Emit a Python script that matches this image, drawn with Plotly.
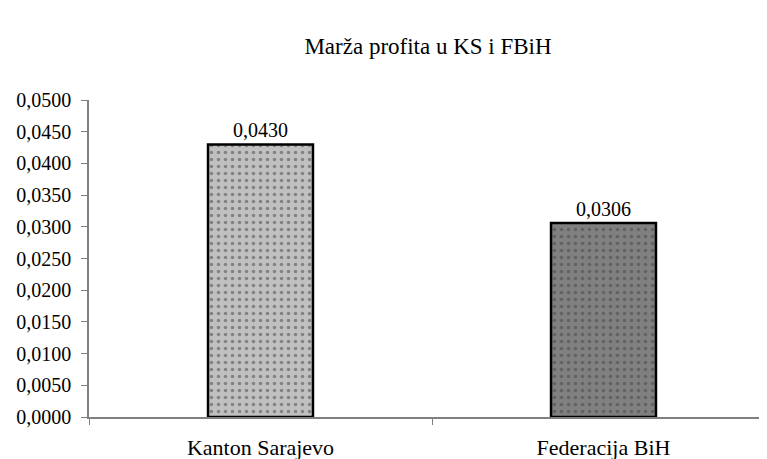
import plotly.graph_objects as go

categories = ["Kanton Sarajevo", "Federacija BiH"]
values = [0.0430, 0.0306]
value_labels = ["0,0430", "0,0306"]
bar_colors = ["#c0c0c0", "#808080"]

SERIF = "'Liberation Serif', 'Times New Roman', Tinos, serif"

fig = go.Figure()
fig.add_trace(go.Bar(
    x=categories, y=values,
    text=value_labels, textposition="outside",
    textfont=dict(family=SERIF, size=20, color="black"),
    width=0.306,
    marker=dict(
        color=bar_colors,
        line=dict(color="black", width=2.5),
        pattern=dict(shape=".", fgcolor="white", bgcolor=bar_colors,
                     size=7, solidity=0.2),
    ),
    cliponaxis=False,
))

# the page body has an 8px margin, so the figure is sized 8px smaller
fig.update_layout(
    title=dict(text="Marža profita u KS i FBiH", x=0.5, xref="paper",
               y=0.915, yref="container", yanchor="middle",
               font=dict(family=SERIF, size=23, color="black")),
    width=759, height=451,
    margin=dict(l=81, r=0, t=92, b=42),
    plot_bgcolor="white", paper_bgcolor="white",
    separators=",.",
    showlegend=False,
    font=dict(family=SERIF, size=20, color="black"),
)

fig.update_yaxes(
    range=[0, 0.05], dtick=0.005, tickformat=".4f",
    showgrid=False, zeroline=False,
    showline=True, linecolor="#808080", linewidth=1.5,
    ticks="outside", ticklen=6, tickcolor="#808080",
    ticklabelstandoff=6,
    tickfont=dict(family=SERIF, size=20, color="black"),
)
fig.update_xaxes(
    range=[-0.5, 1.4767],
    tickson="boundaries",
    showgrid=False, zeroline=False,
    showline=True, linecolor="#808080", linewidth=1.5,
    ticks="outside", ticklen=6, tickcolor="#808080",
    ticklabelstandoff=10,
    tickfont=dict(family=SERIF, size=22, color="black"),
)

fig.write_html("out.html")
